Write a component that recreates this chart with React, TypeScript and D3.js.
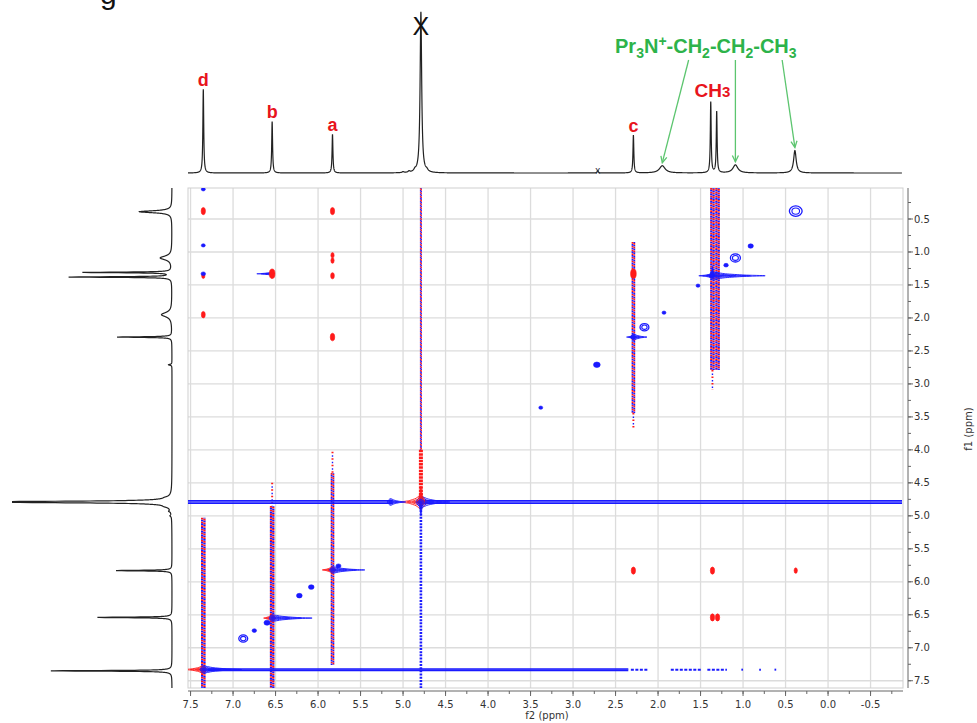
import React from "react";
import * as d3 from "d3";

const RED = "#ff1a1a";
const BLUE = "#1a1aff";
const GREEN = "#2db34a";
const ARROW = "#5cc56f";

// 1H projection lines: position (ppm), intensity, half width (ppm)
const linePpm = [7.35, 6.54, 5.83, 4.79, 4.86, 4.72, 4.93, 5.0, 2.71, 2.29, 1.95, 1.38, 1.31, 1.09, 0.39];
const lineHeight = [52, 32, 24, 100, 1.2, 1.0, 0.8, 0.6, 1.5, 23.5, 4.5, 44, 38, 5, 14];
const lineWidth = [0.006, 0.006, 0.006, 0.011, 0.015, 0.015, 0.012, 0.012, 0.008, 0.006, 0.04, 0.006, 0.006, 0.035, 0.018];

// assigned signals in the top trace
const labelText = ["d", "b", "a", "c"];
const labelPpm = [7.35, 6.54, 5.83, 2.29];

// axis ticks
const f2Ticks = [7.5, 7.0, 6.5, 6.0, 5.5, 5.0, 4.5, 4.0, 3.5, 3.0, 2.5, 2.0, 1.5, 1.0, 0.5, 0.0, -0.5];
const f2TickLabels = ["7.5", "7.0", "6.5", "6.0", "5.5", "5.0", "4.5", "4.0", "3.5", "3.0", "2.5", "2.0", "1.5", "1.0", "0.5", "0.0", "-0.5"];
const f1Ticks = [0.5, 1.0, 1.5, 2.0, 2.5, 3.0, 3.5, 4.0, 4.5, 5.0, 5.5, 6.0, 6.5, 7.0, 7.5];
const f1TickLabels = ["0.5", "1.0", "1.5", "2.0", "2.5", "3.0", "3.5", "4.0", "4.5", "5.0", "5.5", "6.0", "6.5", "7.0", "7.5"];

// t1 noise streaks along f1
const streakF2 = [7.35, 6.54, 6.54, 5.83, 5.83, 4.79, 4.79, 4.79, 2.29, 2.29, 1.36, 1.36, 1.3];
const streakFrom = [5.03, 4.5, 4.85, 4.03, 4.35, 0.03, 4.0, 4.82, 0.85, 3.44, 0.03, 2.79, 0.03];
const streakTo = [7.61, 4.85, 7.61, 4.35, 7.26, 4.0, 4.76, 7.61, 3.44, 3.67, 2.79, 3.09, 2.79];
const streakKind = ["mix", "sparse", "mix", "sparse", "mix", "mix", "red", "blue", "mix", "sparse", "mix", "sparse", "mix"];
const streakLevel = [4.6, 2, 4.6, 2, 3.6, 2, 4, 2.6, 3.6, 2, 4.6, 2, 4.6];

// horizontal (f2) ridges of the strong lines
const bandF1 = [4.772, 4.808, 4.772, 4.808, 7.322, 7.342];
const bandFrom = [7.53, 7.53, 4.79, 4.79, 7.3, 7.3];
const bandTo = [5.12, 5.12, -0.87, -0.87, 2.35, 2.35];
const bandDashFrom = [2.32, 1.85, 1.42, 1.02, 0.81, 0.63];
const bandDashTo = [2.12, 1.48, 1.19, 1.0, 0.79, 0.61];

// dispersive lobes around diagonal / cross peaks
const ridgeF2 = [7.35, 7.35, 6.54, 6.54, 5.83, 5.83, 4.79, 4.79, 4.79, 4.79, 2.29, 2.29, 1.36, 1.36, 1.36, 6.54, 5.15];
const ridgeF1 = [7.33, 7.33, 6.55, 6.55, 5.82, 5.82, 4.79, 4.79, 4.79, 4.79, 2.29, 2.29, 1.36, 1.36, 1.36, 1.33, 4.79];
const ridgeTail = [7.56, 6.9, 6.64, 6.07, 5.95, 5.45, 5.02, 4.45, 4.55, 5.0, 2.13, 2.37, 0.74, 1.52, 1.22, 6.72, 4.97];
const ridgeAxis = ["f2", "f2", "f2", "f2", "f2", "f2", "f2", "f2", "f1", "f1", "f2", "f2", "f2", "f2", "f1", "f2", "f2"];
const ridgeSign = [1, -1, 1, -1, 1, -1, 1, -1, 1, -1, -1, -1, -1, -1, -1, -1, -1];
const ridgeLevel = [2.4, 2.2, 2.4, 2, 2.2, 2, 4.2, 3.4, 2.4, 2, 2, 1.4, 2.2, 1.5, 1.4, 1, 2.1];

// NOE cross peaks (+1 red) and weak diagonal peaks (-1 blue)
const xpF2 = [7.35, 5.83, 5.83, 5.83, 5.83, 5.83, 6.54, 7.35, 7.35, 2.29, 2.29, 1.36, 0.38, 1.36, 1.3,
  0.38, 1.09, 0.91, 1.2, 1.53, 1.93, 2.72, 3.38, 2.16, 6.88, 6.75, 6.22, 6.08, 6.6, 5.76, 7.35, 7.35, 7.35];
const xpF1 = [0.38, 0.38, 1.05, 1.13, 1.36, 2.29, 1.33, 1.36, 1.95, 1.33, 5.83, 5.83, 5.83, 6.54, 6.54,
  0.38, 1.09, 0.91, 1.2, 1.51, 1.92, 2.71, 3.36, 2.14, 6.86, 6.74, 6.21, 6.08, 6.62, 5.76, 0.05, 0.9, 1.33];
const xpSign = [1, 1, 1, 1, 1, 1, 1, 1, 1, 1, 1, 1, 1, 1, 1,
  -1, -1, -1, -1, -1, -1, -1, -1, -1, -1, -1, -1, -1, -1, -1, -1, -1, -1];
const xpLevel = [1.5, 1.5, 1, 1, 1.2, 1.6, 2.2, 1, 1.3, 2.2, 1.5, 1.5, 1, 1.5, 1.5,
  4, 3, 1.3, 1, 0.8, 0.8, 1.8, 0.8, 2.6, 2.6, 1, 1.4, 1.4, 1.6, 1.2, 0.8, 0.8, 1];

// annotation of the propyl chain
const chainPpm = [1.95, 1.09, 0.39];
const chainFrom = [1.64, 1.09, 0.54];

const spike = (cx: number, cy: number, tx: number, ty: number, h: number) => {
  const dx = tx - cx, dy = ty - cy;
  const len = Math.hypot(dx, dy) || 1;
  const ux = dx / len, uy = dy / len, nx = -uy, ny = ux;
  const pt = (a: number, b: number): [number, number] => [cx + ux * a + nx * b, cy + uy * a + ny * b];
  const pts = [pt(-h * 0.9, 0), pt(0, h), pt(len * 0.25, h * 0.55), pt(len * 0.6, h * 0.2), pt(len, 0),
    pt(len * 0.6, -h * 0.2), pt(len * 0.25, -h * 0.55), pt(0, -h)];
  return d3.line().curve(d3.curveCardinalClosed.tension(0.3))(pts) || "";
};

export default function App() {
  const x = d3.scaleLinear().domain([7.53, -0.87]).range([188, 902]);
  const y = d3.scaleLinear().domain([0.03, 7.61]).range([188, 688]);
  const topY = d3.scaleLinear().domain([0, 100]).range([173, 12]);
  const leftX = d3.scaleLinear().domain([0, 100]).range([172, -61]);
  const width = d3.scaleLinear().domain([0, 4]).range([0, 4]);

  const spectrum = (p: number) =>
    d3.sum(linePpm, (p0, i) => {
      const w = lineWidth[i];
      return (lineHeight[i] * w * w) / ((p - p0) * (p - p0) + w * w);
    });
  const f2Grid = d3.range(7.53, -0.87, -0.001);
  const f1Grid = d3.range(0.03, 7.61, 0.001);
  const topPath = d3.line<number>().x((p) => x(p)).y((p) => topY(spectrum(p)))(f2Grid) || "";
  const leftPath = d3.line<number>().x((p) => leftX(spectrum(p))).y((p) => y(p))(f1Grid) || "";

  const [x0] = x.range();
  const [y0, y1] = y.range();
  const minorF2 = d3.range(-0.75, 7.51, 0.25);
  const minorF1 = d3.range(0.25, 7.51, 0.25);
  const axisFont = "DejaVu Sans, Verdana, sans-serif";
  const labelFont = "Liberation Sans, Arial, sans-serif";

  const streaks = streakF2.map((f2, i) => {
    const cx = x(f2), ya = y(streakFrom[i]), yb = y(streakTo[i]);
    const w = width(streakLevel[i]);
    const kind = streakKind[i];
    if (kind === "mix") {
      return (
        <g key={"s" + i} strokeWidth={w / 2}>
          <line x1={cx - w / 4} x2={cx - w / 4} y1={ya} y2={yb} stroke={RED} strokeDasharray="1.7 2" />
          <line x1={cx - w / 4} x2={cx - w / 4} y1={ya} y2={yb} stroke={BLUE} strokeDasharray="1.7 2" strokeDashoffset={1.85} />
          <line x1={cx + w / 4} x2={cx + w / 4} y1={ya} y2={yb} stroke={BLUE} strokeDasharray="1.7 2" strokeDashoffset={0.9} />
          <line x1={cx + w / 4} x2={cx + w / 4} y1={ya} y2={yb} stroke={RED} strokeDasharray="1.7 2" strokeDashoffset={2.75} />
        </g>
      );
    }
    if (kind === "sparse") {
      return (
        <g key={"s" + i}>
          <line x1={cx} x2={cx} y1={ya} y2={yb} stroke={RED} strokeWidth={w} strokeDasharray="1.5 5" />
          <line x1={cx} x2={cx} y1={ya} y2={yb} stroke={BLUE} strokeWidth={w * 0.7} strokeDasharray="1.5 5" strokeDashoffset={3} />
        </g>
      );
    }
    return (
      <line key={"s" + i} x1={cx} x2={cx} y1={ya} y2={yb} stroke={kind === "red" ? RED : BLUE} strokeWidth={w}
        strokeDasharray={kind === "red" ? "2.5 0.8" : "2 1.2"} />
    );
  });

  const ridges = ridgeF2.map((f2, i) => {
    const cx = x(f2), cy = y(ridgeF1[i]);
    const tx = ridgeAxis[i] === "f2" ? x(ridgeTail[i]) : cx;
    const ty = ridgeAxis[i] === "f1" ? y(ridgeTail[i]) : cy;
    const h = ridgeLevel[i] * 1.6;
    const color = ridgeSign[i] > 0 ? RED : BLUE;
    return (
      <g key={"r" + i} stroke={color} strokeWidth={0.9}>
        {[1, 0.72, 0.45].map((k, j) => (
          <path key={j} d={spike(cx, cy, cx + (tx - cx) * k, cy + (ty - cy) * k, h * k)}
            fill={j === 2 ? color : "none"} fillOpacity={0.9} />
        ))}
      </g>
    );
  });

  const crossPeaks = xpF2.map((f2, i) => {
    const r = 0.8 + xpLevel[i] * 1.25;
    const pos = xpSign[i] > 0;
    const color = pos ? RED : BLUE;
    const rx = pos ? r * 0.8 : r * 1.1;
    const ry = pos ? r * 1.35 : r * 0.9;
    const ring = !pos && xpLevel[i] >= 2.5;
    return (
      <g key={"x" + i}>
        {ring ? (
          <>
            <ellipse cx={x(f2)} cy={y(xpF1[i])} rx={rx} ry={ry} fill="none" stroke={color} strokeWidth={1.3} />
            <ellipse cx={x(f2)} cy={y(xpF1[i])} rx={rx * 0.6} ry={ry * 0.6} fill="none" stroke={color} strokeWidth={1.1} />
          </>
        ) : (
          <ellipse cx={x(f2)} cy={y(xpF1[i])} rx={rx} ry={ry} fill={color} stroke={color} strokeWidth={0.6} />
        )}
      </g>
    );
  });

  const arrowHead = (ax: number, ay: number, bx: number, by: number) => {
    const a = Math.atan2(by - ay, bx - ax);
    const s = 7, sp = 0.45;
    return `M${bx - s * Math.cos(a - sp)},${by - s * Math.sin(a - sp)}L${bx},${by}L${bx - s * Math.cos(a + sp)},${by - s * Math.sin(a + sp)}`;
  };

  return (
    <svg width={977} height={723} style={{ position: "absolute", left: 0, top: 0, background: "#fff" }}>
      <text x={100} y={4} fontFamily={labelFont} fontSize={30} fill="#111">g</text>

      {/* top 1D projection */}
      <path d={topPath} fill="none" stroke="#222" strokeWidth={1.2} />
      <text x={x(4.79)} y={35} textAnchor="middle" fontFamily={labelFont} fontSize={25} fill="#111">X</text>
      <text x={x(2.71)} y={174} textAnchor="middle" fontFamily={labelFont} fontSize={10} fill="#334">x</text>
      {labelText.map((t, i) => (
        <text key={t} x={x(labelPpm[i])} y={topY(spectrum(labelPpm[i])) - 3.5} textAnchor="middle"
          fontFamily={labelFont} fontWeight="bold" fontSize={18} fill="#e8141c">{t}</text>
      ))}
      <text x={x(1.36)} y={topY(spectrum(1.38)) - 5} textAnchor="middle" fontFamily={labelFont} fontWeight="bold"
        fontSize={19} fill="#e8141c">CH<tspan fontSize={15}>3</tspan></text>
      <text x={615} y={53} fontFamily={labelFont} fontWeight="bold" fontSize={20} fill={GREEN}>
        Pr<tspan dy={5} fontSize={14}>3</tspan><tspan dy={-5}>N</tspan><tspan dy={-7} fontSize={14}>+</tspan>
        <tspan dy={7}>-CH</tspan><tspan dy={5} fontSize={14}>2</tspan><tspan dy={-5}>-CH</tspan>
        <tspan dy={5} fontSize={14}>2</tspan><tspan dy={-5}>-CH</tspan><tspan dy={5} fontSize={14}>3</tspan>
      </text>
      {chainPpm.map((p, i) => {
        const ax = x(chainFrom[i]), ay = 60;
        const bx = x(p), by = topY(spectrum(p)) - 3;
        return (
          <g key={"a" + i} stroke={ARROW} strokeWidth={1.3} fill="none">
            <line x1={ax} y1={ay} x2={bx} y2={by} />
            <path d={arrowHead(ax, ay, bx, by)} />
          </g>
        );
      })}

      {/* left 1D projection */}
      <defs>
        <clipPath id="leftClip"><rect x={12} y={0} width={170} height={723} /></clipPath>
        <clipPath id="plotClip"><rect x={x0} y={y0} width={903 - x0} height={y1 - y0} /></clipPath>
      </defs>
      <path d={leftPath} fill="none" stroke="#222" strokeWidth={1.2} clipPath="url(#leftClip)" />

      {/* 2D grid */}
      <g stroke="#dcdcdc" strokeWidth={1.3}>
        {f2Ticks.map((t) => <line key={"gx" + t} x1={x(t)} x2={x(t)} y1={y0} y2={y1} />)}
        {f1Ticks.map((t) => <line key={"gy" + t} x1={x0} x2={903} y1={y(t)} y2={y(t)} />)}
      </g>
      <rect x={x0} y={y0} width={903 - x0} height={y1 - y0} fill="none" stroke="#cfcfcf" strokeWidth={1} />

      <g clipPath="url(#plotClip)">
        {streaks}
        <g stroke={BLUE} strokeWidth={1.7}>
          {bandF1.map((f1, i) => (
            <line key={"b" + i} x1={x(bandFrom[i])} x2={x(bandTo[i])} y1={y(f1)} y2={y(f1)} />
          ))}
          {bandDashFrom.map((f, i) => (
            <line key={"bd" + i} x1={x(f)} x2={x(bandDashTo[i])} y1={y(7.332)} y2={y(7.332)} strokeWidth={2}
              strokeDasharray="3 1.5" />
          ))}
        </g>
        {ridges}
        {crossPeaks}
      </g>

      {/* f2 axis */}
      <g stroke="#666" strokeWidth={1}>
        <line x1={x0} x2={903} y1={691} y2={691} />
        {minorF2.map((t) => <line key={"mx" + t} x1={x(t)} x2={x(t)} y1={691} y2={694} />)}
        {f2Ticks.map((t) => <line key={"tx" + t} x1={x(t)} x2={x(t)} y1={691} y2={696} />)}
      </g>
      {f2Ticks.map((t, i) => (
        <text key={"lx" + t} x={x(t)} y={708} textAnchor="middle" fontFamily={axisFont} fontSize={10} fill="#333">
          {f2TickLabels[i]}
        </text>
      ))}
      <text x={547} y={719} textAnchor="middle" fontFamily={axisFont} fontSize={10} fill="#333">f2 (ppm)</text>

      {/* f1 axis */}
      <g stroke="#666" strokeWidth={1}>
        <line x1={908} x2={908} y1={y0} y2={y1} />
        {minorF1.map((t) => <line key={"my" + t} x1={908} x2={911} y1={y(t)} y2={y(t)} />)}
        {f1Ticks.map((t) => <line key={"ty" + t} x1={908} x2={913} y1={y(t)} y2={y(t)} />)}
      </g>
      {f1Ticks.map((t, i) => (
        <text key={"ly" + t} x={914} y={y(t)} dominantBaseline="central" fontFamily={axisFont} fontSize={10} fill="#333">
          {f1TickLabels[i]}
        </text>
      ))}
      <text transform="translate(968,429) rotate(-90)" textAnchor="middle" dominantBaseline="central"
        fontFamily={axisFont} fontSize={10} fill="#333">f1 (ppm)</text>
    </svg>
  );
}
